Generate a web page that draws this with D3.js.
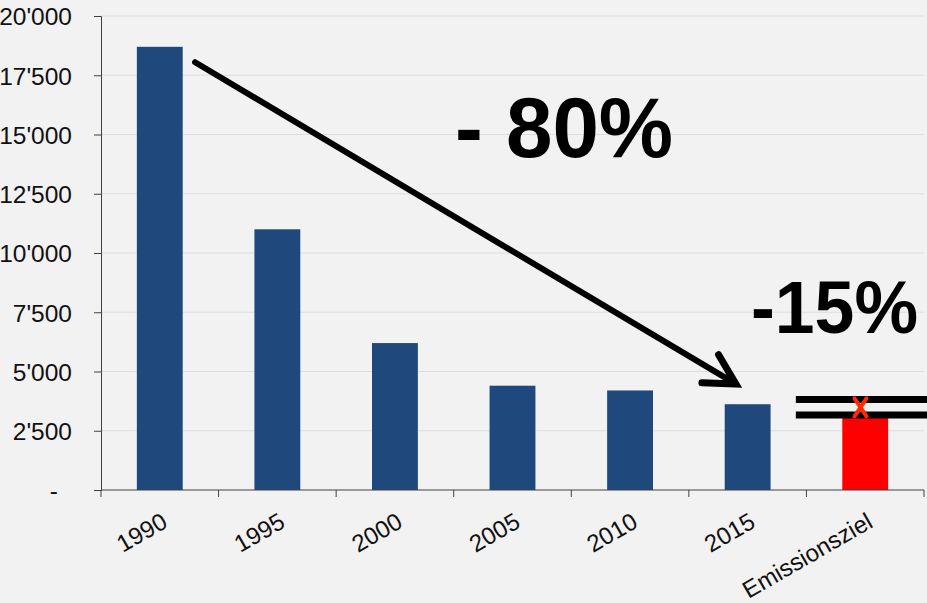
<!DOCTYPE html>
<html>
<head>
<meta charset="utf-8">
<script src="https://cdn.jsdelivr.net/npm/d3@7"></script>
<style>
  html, body { margin: 0; padding: 0; background: #f2f2f2; }
  svg { display: block; font-family: "Liberation Sans", Arial, sans-serif; }
</style>
</head>
<body>
<svg id="chart" width="927" height="603"></svg>
<script>
// chart data
const categories = ['1990', '1995', '2000', '2005', '2010', '2015', 'Emissionsziel'];
const values = [18700, 11000, 6200, 4400, 4200, 3620, 3060];
const barColors = ['#1f497d', '#1f497d', '#1f497d', '#1f497d', '#1f497d', '#1f497d', '#ff0000'];
const yTicks = [0, 2500, 5000, 7500, 10000, 12500, 15000, 17500, 20000];

// annotations: target band (two black lines) and the big arrow
const targetLines = [3820, 3160];
const arrowFrom = { cat: '1990', frac: 0.8, value: 18050 };
const arrowTo = { cat: '2015', frac: 0.4, value: 4470 };

const svg = d3.select('#chart');
const margin = { left: 101, right: 3, top: 16, bottom: 113 };
const width = 927, height = 603;

const x = d3.scaleBand()
    .domain(categories)
    .range([margin.left, width - margin.right])
    .padding(0);

const y = d3.scaleLinear()
    .domain([0, 20000])
    .range([height - margin.bottom, margin.top]);

const barFrac = 0.39;

// gridlines
svg.append('g')
    .selectAll('line')
    .data(yTicks.filter(d => d > 0))
    .join('line')
    .attr('x1', margin.left)
    .attr('x2', width - margin.right)
    .attr('y1', d => y(d))
    .attr('y2', d => y(d))
    .attr('stroke', '#dcdce6')
    .attr('stroke-width', 1.2);

// bars
svg.append('g')
    .selectAll('rect')
    .data(categories)
    .join('rect')
    .attr('x', d => x(d) + x.bandwidth() * (1 - barFrac) / 2)
    .attr('width', x.bandwidth() * barFrac)
    .attr('y', (d, i) => y(values[i]))
    .attr('height', (d, i) => y(0) - y(values[i]))
    .attr('fill', (d, i) => barColors[i]);

// y axis
const fmt = d => d === 0 ? '-' : d3.format(',')(d).replace(/,/g, '\'');
const yAxis = svg.append('g')
    .attr('transform', `translate(${margin.left},0)`)
    .call(d3.axisLeft(y).tickValues(yTicks).tickFormat(fmt).tickSize(7).tickPadding(22));
yAxis.select('.domain').attr('stroke', '#404040');
yAxis.selectAll('.tick line').attr('stroke', '#404040');
yAxis.selectAll('.tick text')
    .attr('font-size', 24.5)
    .attr('fill', '#111')
    .attr('font-family', '"Liberation Sans", Arial, sans-serif')
    .attr('dx', d => d === 0 ? -14 : 0)
    .attr('dy', '0.36em');

// x axis with ticks at category boundaries
const xAxis = svg.append('g').attr('transform', `translate(0,${y(0)})`);
xAxis.append('line')
    .attr('x1', margin.left)
    .attr('x2', width - margin.right)
    .attr('stroke', '#404040');
const bounds = categories.map(d => x(d)).concat([x(categories[categories.length - 1]) + x.bandwidth()]);
xAxis.selectAll('.bt')
    .data(bounds)
    .join('line')
    .attr('class', 'bt')
    .attr('x1', d => d).attr('x2', d => d)
    .attr('y1', 0).attr('y2', 7)
    .attr('stroke', '#404040');
xAxis.selectAll('text')
    .data(categories)
    .join('text')
    .attr('transform', d => `translate(${x(d) + x.bandwidth() / 2 + 5},${29}) rotate(-30)`)
    .attr('text-anchor', 'end')
    .attr('dy', '0.35em')
    .attr('font-size', 24)
    .attr('fill', '#111')
    .text(d => d);

// target band lines
const last = categories[categories.length - 1];
svg.append('g')
    .selectAll('line')
    .data(targetLines)
    .join('line')
    .attr('x1', x(last) - x.bandwidth() * 0.09)
    .attr('x2', width)
    .attr('y1', d => y(d))
    .attr('y2', d => y(d))
    .attr('stroke', '#000')
    .attr('stroke-width', 7);

// red cross on target
const cx = x(last) + x.bandwidth() * 0.46;
const cy = y(d3.mean(targetLines));
svg.append('path')
    .attr('d', `M${cx - 6},${cy - 9}L${cx + 6},${cy + 9}M${cx + 6},${cy - 9}L${cx - 6},${cy + 9}`)
    .attr('stroke', '#ff2a00')
    .attr('stroke-width', 4)
    .attr('stroke-linecap', 'round')
    .attr('fill', 'none');

// big arrow
const ax1 = x(arrowFrom.cat) + x.bandwidth() * arrowFrom.frac, ay1 = y(arrowFrom.value);
const ax2 = x(arrowTo.cat) + x.bandwidth() * arrowTo.frac, ay2 = y(arrowTo.value);
const ang = Math.atan2(ay2 - ay1, ax2 - ax1);
const headLen = 34, headAng = 0.5;
svg.append('line')
    .attr('x1', ax1).attr('y1', ay1)
    .attr('x2', ax2 - 10 * Math.cos(ang)).attr('y2', ay2 - 10 * Math.sin(ang))
    .attr('stroke', '#000')
    .attr('stroke-width', 6)
    .attr('stroke-linecap', 'round');
const w1 = [ax2 - headLen * Math.cos(ang - headAng), ay2 - headLen * Math.sin(ang - headAng)];
const w2 = [ax2 - headLen * Math.cos(ang + headAng), ay2 - headLen * Math.sin(ang + headAng)];
svg.append('path')
    .attr('d', `M${w1[0]},${w1[1]}L${ax2},${ay2}L${w2[0]},${w2[1]}`)
    .attr('stroke', '#000')
    .attr('stroke-width', 7)
    .attr('stroke-linecap', 'round')
    .attr('stroke-linejoin', 'miter')
    .attr('fill', 'none');

// percentage labels
svg.append('text')
    .attr('x', 455).attr('y', 157)
    .attr('font-size', 86)
    .attr('font-weight', 'bold')
    .attr('fill', '#000')
    .attr('textLength', 218)
    .attr('lengthAdjust', 'spacingAndGlyphs')
    .text('- 80%');

svg.append('text')
    .attr('x', 751).attr('y', 333)
    .attr('font-size', 74)
    .attr('font-weight', 'bold')
    .attr('fill', '#000')
    .attr('textLength', 167)
    .attr('lengthAdjust', 'spacingAndGlyphs')
    .text('-15%');
</script>
</body>
</html>
